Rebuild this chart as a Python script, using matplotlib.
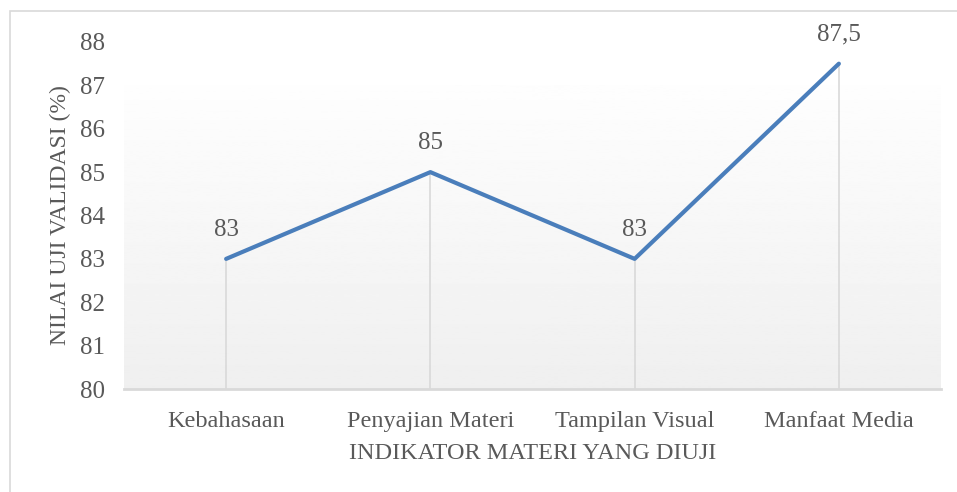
import matplotlib.pyplot as plt
import numpy as np
import pandas as pd

df = pd.DataFrame({
    'Indikator': ['Kebahasaan', 'Penyajian Materi', 'Tampilan Visual', 'Manfaat Media'],
    'Nilai': [83, 85, 83, 87.5],
})
nilai = df['Nilai'].tolist()
labels = ['83', '85', '83', '87,5']

font = {'fontname':'Liberation Serif', 'color':'#595959'}

fig = plt.figure(figsize=(9.57, 4.92), dpi=100)
fig.patches.append(plt.Rectangle((10/957, -0.05), 1.0, 1 - 11/492 + 0.05, transform=fig.transFigure,
                                 fill=False, edgecolor='#d9d9d9', linewidth=1.2))
plt.axes([124/957, 1 - 389/492, 817/957, 347/492])

x = df.index.values.tolist()

# gradient background of the plot area (darker at the bottom)
grad = np.linspace(0.937, 0.995, 256).reshape(-1, 1)
plt.imshow(grad, cmap='gray', vmin=0, vmax=1, aspect='auto', extent=(-0.5, 3.5, 80, 87),
           origin='lower', zorder=0)

plt.vlines(x, 80, nilai, colors='#d9d9d9', linewidth=1.2, zorder=1)
plt.plot(x, nilai, c='#4a7ebb', linewidth=3, solid_capstyle='round', zorder=3)

for xi, yi, t in zip(x, nilai, labels):
    plt.annotate(t, (xi, yi), xytext=(0, 13), textcoords='offset points', ha='center', va='bottom',
                 fontsize=18, **font)

plt.xlim(-0.5, 3.5)
plt.ylim(80, 88)
plt.xticks(x, df['Indikator'], fontsize=17.5, **font)
plt.yticks(range(80, 89), fontsize=18, **font)
plt.tick_params(length=0)
plt.tick_params(axis='x', pad=16)
plt.tick_params(axis='y', pad=14)

ax = plt.gca()
for side in ['top', 'right', 'left']:
    ax.spines[side].set_visible(False)
ax.spines['bottom'].set_color('#d9d9d9')
ax.spines['bottom'].set_linewidth(2)
ax.spines['bottom'].set_zorder(4)

plt.xlabel('INDIKATOR MATERI YANG DIUJI', fontsize=17.5, labelpad=8, **font)
plt.ylabel('NILAI UJI VALIDASI (%)', fontsize=17, labelpad=6, **font)

plt.savefig('out.png', dpi=100)
